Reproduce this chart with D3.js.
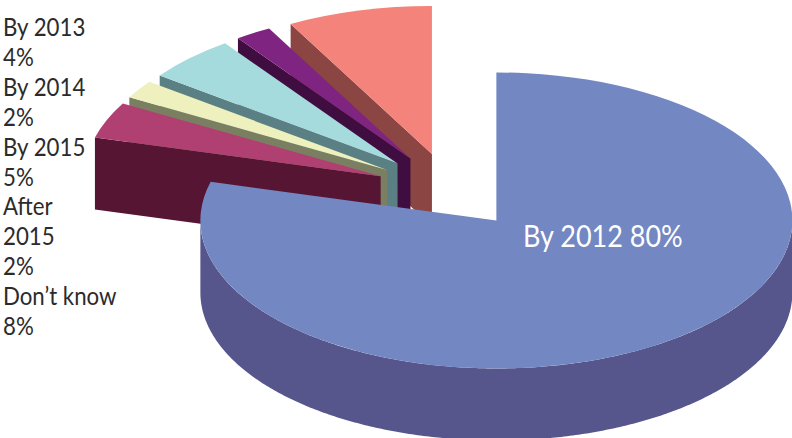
<!DOCTYPE html>
<html>
<head>
<meta charset="utf-8">
<script src="https://cdn.jsdelivr.net/npm/d3@7/dist/d3.min.js"></script>
<style>
  html, body { margin: 0; padding: 0; background: #fff; }
  svg { display: block; }
  text { font-family: Lato, "Open Sans", sans-serif; }
</style>
</head>
<body>
<svg id="chart" width="792" height="438"></svg>
<script>
// Survey answers, in clockwise order from twelve o'clock
const categories = ["By 2012", "By 2013", "By 2014", "By 2015", "After 2015", "Don\u2019t know"];
const shares = [80, 4, 2, 5, 2, 8];
const topColours = ["#7387c3", "#b04071", "#eef0be", "#a5dbdd", "#7f2480", "#f4837b"];
const wallColours = ["#56568c", "#561533", "#7a7f62", "#5a8083", "#3f0d40", "#8b4543"];
const legendLines = [["By 2013", "4%"], ["By 2014", "2%"], ["By 2015", "5%"], ["After", "2015", "2%"], ["Don\u2019t know", "8%"]];

const W = 792, H = 438;
const cx = 450.5, cy = 190.5;     // shared centre before the slices are pulled apart
const rx = 296, ry = 148;         // ellipse of the tilted disc
const depth = 72;                 // thickness of the disc
const explode = 0.255;            // how far each slice moves out, as a share of the radius

const svg = d3.select("#chart");

const pie = d3.pie().sort(null).value((d, i) => shares[i]).startAngle(0).endAngle(2 * Math.PI);
const slices = pie(categories).map((s, i) => {
  const mid = (s.startAngle + s.endAngle) / 2;
  return {
    ...s, i,
    ax: cx + explode * rx * Math.sin(mid),
    ay: cy - explode * ry * Math.cos(mid)
  };
});

// The top face is a circular arc squeezed into the ellipse by its transform
const arc = d3.arc().innerRadius(0).outerRadius(ry);
const rim = (s, a) => [s.ax + rx * Math.sin(a), s.ay - ry * Math.cos(a)];
const line = d3.line();

// Side walls that face the viewer: the radial cut at the start of each small
// slice, and the curved outer wall of the part of the disc on the near side
function radialWall(s) {
  const [x, y] = rim(s, s.startAngle);
  return line([[x, y], [s.ax, s.ay], [s.ax, s.ay + depth], [x, y + depth]]) + "Z";
}
function outerWall(s) {
  const from = Math.max(s.startAngle, Math.PI / 2);
  const to = Math.min(s.endAngle, 3 * Math.PI / 2);
  if (from >= to) return null;
  const angles = d3.range(from, to, 0.01).concat([to]);
  const upper = angles.map(a => rim(s, a));
  const lower = angles.slice().reverse().map(a => {
    const [x, y] = rim(s, a);
    return [x, y + depth];
  });
  return line(upper.concat(lower)) + "Z";
}

// Paint from the back of the fan to the front; the big slice goes on last
const order = slices.slice(1).reverse().concat([slices[0]]);
const group = svg.selectAll("g.slice").data(order).join("g").attr("class", "slice");

group.filter(s => s.i !== 0).append("path")
  .attr("d", radialWall)
  .attr("fill", s => wallColours[s.i]);
group.filter(s => outerWall(s) !== null).append("path")
  .attr("d", outerWall)
  .attr("fill", s => wallColours[s.i]);
group.append("path")
  .attr("d", arc)
  .attr("transform", s => `translate(${s.ax},${s.ay}) scale(${rx / ry},1)`)
  .attr("fill", s => topColours[s.i]);

// Stacked labels down the left margin, set in a narrowed face
const lineHeight = 29.9;
const flat = legendLines.flat();
svg.append("g").selectAll("text").data(flat).join("text")
  .attr("transform", (d, i) => `translate(3,${36 + i * lineHeight}) scale(0.89,1)`)
  .attr("font-size", 25)
  .attr("fill", "#2b2b2b")
  .text(d => d);

// Label sitting on the big slice
svg.append("text")
  .attr("transform", "translate(523,247) scale(0.9,1)")
  .attr("font-size", 30)
  .attr("fill", "#ffffff")
  .text(`${categories[0]} ${shares[0]}%`);
</script>
</body>
</html>
